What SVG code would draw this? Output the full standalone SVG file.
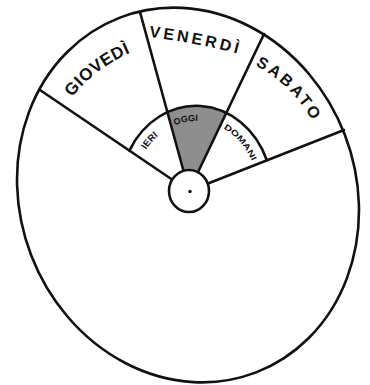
<svg xmlns="http://www.w3.org/2000/svg" width="370" height="385" viewBox="0 0 370 385">
<style>
.ln{fill:none;stroke:#111;stroke-width:2.6;stroke-linecap:round}
.big{font-family:"Liberation Sans",Arial,sans-serif;font-weight:bold;fill:#111}
.sm{font-family:"Liberation Sans",Arial,sans-serif;font-weight:bold;fill:#111}
</style>
<defs>
<path id="pGio" d="M42.7,158 A150,150 0 0 1 196.1,41.2"/>
<path id="pVen" d="M148,37 Q195,42 242,55"/>
<path id="pSab" d="M198.9,49.3 A142,142 0 0 1 330.2,176.2"/>
<path id="pIeri" d="M137.7,167.7 A62,71 0 0 1 174.8,125.3"/>
<path id="pOggi" d="M165,130.5 A62,71 0 0 1 208.9,122.6"/>
<path id="pDom" d="M217.2,125.3 A62,71 0 0 1 254.3,167.7"/>
</defs>
<rect width="370" height="385" fill="#fff"/>
<g id="wheel">
<ellipse cx="188" cy="195" rx="168" ry="190" transform="rotate(-21 188 195)" class="ln" stroke-width="2.8"/>
</g>
<g id="oggi-sector">
<path d="M189,191 L166.5,112 A76,86 0 0 1 226.3,113 Z" fill="#8e8e8e"/>
</g>
<g id="connectors">
<line class="ln" x1="40" y1="90" x2="189" y2="191"/>
<line class="ln" x1="140" y1="12" x2="189" y2="191"/>
<line class="ln" x1="264" y1="34" x2="189" y2="191"/>
<line class="ln" x1="344" y1="130" x2="189" y2="191"/>
<path class="ln" d="M129.4,150.6 A76,86 0 0 1 266.8,160.2"/>
</g>
<g id="hub">
<ellipse cx="189" cy="191" rx="20" ry="21" fill="#fff" stroke="#111" stroke-width="2.6"/>
<circle cx="190" cy="191.5" r="1.7" fill="#111"/>
</g>
<g id="giovedi">
<text class="big" font-size="17"><textPath href="#pGio" startOffset="68" textLength="74" lengthAdjust="spacing">GIOVEDÌ</textPath></text>
</g>
<g id="venerdi">
<text class="big" font-size="16"><textPath href="#pVen" startOffset="1" textLength="90" lengthAdjust="spacing">VENERDÌ</textPath></text>
</g>
<g id="sabato">
<text class="big" font-size="16"><textPath href="#pSab" startOffset="59" textLength="80" lengthAdjust="spacing">SABATO</textPath></text>
</g>
<g id="ieri">
<text class="sm" font-size="9.5"><textPath href="#pIeri" startOffset="50%" text-anchor="middle">IERI</textPath></text>
</g>
<g id="oggi">
<text class="sm" font-size="9"><textPath href="#pOggi" startOffset="50%" text-anchor="middle">OGGI</textPath></text>
</g>
<g id="domani">
<text class="sm" font-size="8"><textPath href="#pDom" startOffset="7" textLength="44" lengthAdjust="spacingAndGlyphs">DOMANI</textPath></text>
</g>
</svg>
